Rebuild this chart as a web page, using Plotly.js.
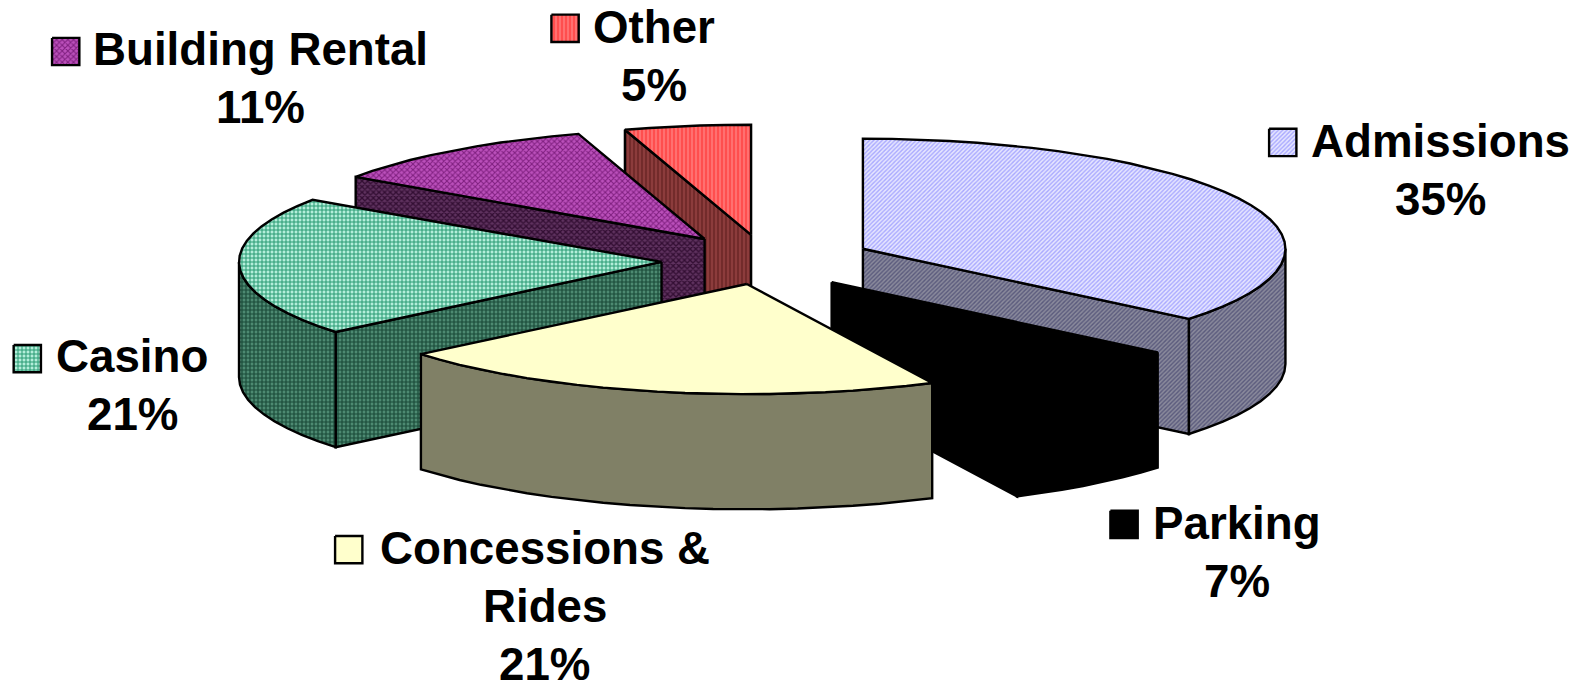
<!DOCTYPE html>
<html>
<head>
<meta charset="utf-8">
<script src="https://cdn.plot.ly/plotly-3.0.1.min.js"></script>
<style>html,body{margin:0;padding:0;background:#fff}#chart{width:1585px;height:683px}</style>
</head>
<body>
<div id="chart"></div>
<script>
// Revenue share by source
const categories = ["Admissions", "Parking", "Concessions &", "Casino", "Building Rental", "Other"];
const secondLines = ["", "", "Rides", "", "", ""];
const shares = [35, 7, 21, 21, 11, 5];

// How far each slice is pulled out of the pie, as a fraction of the radius
const pulls = [0.253, 0.25, 0.217, 0.248, 0.245, 0.237];

// Slices are painted back to front
const paintOrder = [5, 4, 3, 0, 1, 2];

// Top face and side wall fills for each slice
const topFills = [
  {shape: "/", size: 3, solidity: 0.45, bgcolor: "#e6e6ff", fgcolor: "#a8a8ff"},
  {bgcolor: "#000000"},
  {bgcolor: "#ffffcc"},
  {shape: "+", size: 4, solidity: 0.45, bgcolor: "#b4eeda", fgcolor: "#2a9c74"},
  {shape: "x", size: 4, solidity: 0.45, bgcolor: "#bb50bb", fgcolor: "#7f1f7f"},
  {shape: "|", size: 4, solidity: 0.45, bgcolor: "#ff7070", fgcolor: "#ff4a4a"}
];
const wallFills = [
  {shape: "/", size: 3, solidity: 0.45, bgcolor: "#8a8a9c", fgcolor: "#5a5a7c"},
  {bgcolor: "#000000"},
  {bgcolor: "#808066"},
  {shape: "+", size: 4, solidity: 0.5, bgcolor: "#4d8a72", fgcolor: "#194a38"},
  {shape: "x", size: 4, solidity: 0.55, bgcolor: "#5f325f", fgcolor: "#330e33"},
  {shape: "|", size: 4, solidity: 0.4, bgcolor: "#8c3c3c", fgcolor: "#6c2626"}
];

// Line centres of each label and legend key centres, in plot units
const lineGap = 57.5;
const labelX = [1425, 1224, 539, 131, 258, 647];
const labelY = [140, 518, 543, 353, 49, 27];
const keyX = [1269, 1112, 345, 27, 65, 559];
const keyY = [141, 519, 544, 355, 51, 28];
const keySize = 27;

// Oblique view of the pie
const view = {cx: 758, cy: 258, rx: 418, ry: 109, depth: 114};
const outlineWidth = 2.4;

// Angles are clockwise from 12 o'clock; the view skews them slightly
const rad = d => d * Math.PI / 180;
const skew = d => d + 4 * Math.sin(rad(d / 2)) - 1.1 * Math.exp(-Math.pow((d - 151) / 15, 2));

function project(centre, deg, drop) {
  return [
    centre[0] + view.rx * Math.sin(rad(deg)),
    centre[1] - view.ry * Math.cos(rad(deg)) + (drop || 0)
  ];
}

function arcPoints(centre, from, to, drop) {
  const steps = Math.max(1, Math.ceil((to - from) / 4));
  const pts = [];
  for (let i = 0; i <= steps; i++) pts.push(project(centre, from + (to - from) * i / steps, drop));
  return pts;
}

function face(points, fill, name) {
  const closed = points.concat([points[0]]);
  const trace = {
    type: "scatter",
    mode: "lines",
    name: name,
    x: closed.map(p => p[0]),
    y: closed.map(p => p[1]),
    fill: "toself",
    fillcolor: fill.bgcolor,
    line: {color: "#000000", width: outlineWidth},
    hoverinfo: "skip",
    showlegend: false
  };
  if (fill.shape) trace.fillpattern = Object.assign({fillmode: "replace"}, fill);
  return trace;
}

const total = shares.reduce((a, b) => a + b, 0);
const slices = [];
let running = 0;
shares.forEach((share, i) => {
  const a0 = skew(running / total * 360);
  running += share;
  const a1 = skew(running / total * 360);
  const mid = (a0 + a1) / 2;
  const centre = [
    view.cx + pulls[i] * view.rx * Math.sin(rad(mid)),
    view.cy - pulls[i] * view.ry * Math.cos(rad(mid))
  ];
  slices.push({a0, a1, centre});
});

const traces = [];
paintOrder.forEach(i => {
  const {a0, a1, centre} = slices[i];
  const d = view.depth;
  const base = [centre[0], centre[1] + d];
  const name = categories[i];

  // Flat cut faces: only those turned towards the viewer are drawn
  if (Math.sin(rad(a0)) < -0.01) {
    traces.push(face([centre, project(centre, a0), project(centre, a0, d), base], wallFills[i], name + " wall"));
  }
  if (Math.sin(rad(a1)) > 0.01) {
    traces.push(face([centre, project(centre, a1), project(centre, a1, d), base], wallFills[i], name + " wall"));
  }

  // Curved rim, front half only
  const from = Math.max(a0, 90), to = Math.min(a1, 270);
  if (to > from) {
    const upper = arcPoints(centre, from, to, 0);
    const lower = arcPoints(centre, from, to, d).reverse();
    traces.push(face(upper.concat(lower), wallFills[i], name + " rim"));
  }

  traces.push(face([centre].concat(arcPoints(centre, a0, a1, 0)), topFills[i], name + " top"));
});

// Legend keys sit beside their labels
categories.forEach((c, i) => {
  const h = keySize / 2;
  traces.push(face([
    [keyX[i] - h, keyY[i] - h], [keyX[i] + h, keyY[i] - h],
    [keyX[i] + h, keyY[i] + h], [keyX[i] - h, keyY[i] + h]
  ], topFills[i], c + " key"));
});

// Each label line is its own annotation so the line spacing can be set exactly
const annotations = [];
categories.forEach((c, i) => {
  const lines = [c, secondLines[i], shares[i] + "%"].filter(Boolean);
  lines.forEach((text, n) => annotations.push({
    x: labelX[i],
    y: labelY[i] + n * lineGap,
    xref: "x",
    yref: "y",
    xanchor: "center",
    yanchor: "middle",
    showarrow: false,
    text: "<b>" + text + "</b>",
    font: {family: "Liberation Sans, Arial, sans-serif", size: 45.7, color: "#000000"}
  }));
});

const hiddenAxis = {visible: false, showgrid: false, zeroline: false, fixedrange: true};
const layout = {
  width: 1585,
  height: 683,
  margin: {l: 0, r: 0, t: 0, b: 0},
  paper_bgcolor: "#ffffff",
  plot_bgcolor: "#ffffff",
  showlegend: false,
  xaxis: Object.assign({range: [0, 1568]}, hiddenAxis),
  yaxis: Object.assign({range: [676, 0]}, hiddenAxis),
  annotations: annotations
};

Plotly.newPlot("chart", traces, layout, {displayModeBar: false, staticPlot: true});
</script>
</body>
</html>
